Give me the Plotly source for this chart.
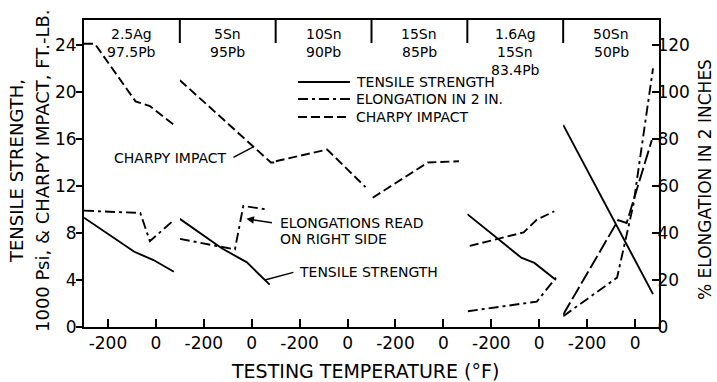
import plotly.graph_objects as go

# Alloy composition of each panel (top labels)
alloys = [
    ["2.5Ag", "97.5Pb"],
    ["5Sn", "95Pb"],
    ["10Sn", "90Pb"],
    ["15Sn", "85Pb"],
    ["1.6Ag", "15Sn", "83.4Pb"],
    ["50Sn", "50Pb"],
]

# Tensile strength, 1000 psi (left axis)
tensile_temp = [
    [-300, -205, -90, -10, 75],
    [-300, -125, -20, 75],
    [],
    [],
    [-300, -170, -75, -20, 70],
    [-300, 75],
]
tensile_ksi = [
    [9.3, 8.0, 6.4, 5.7, 4.7],
    [9.2, 6.7, 5.5, 3.6],
    [],
    [],
    [9.6, 7.5, 5.9, 5.45, 4.0],
    [17.2, 2.8],
]

# Elongation in 2 in., percent (right axis)
elong_temp = [
    [-300, -65, -25, 75],
    [-300, -70, -35, 62],
    [],
    [],
    [-298, -10, 70],
    [-300, -75, -7, 75],
]
elong_pct = [
    [49.5, 48.5, 36.5, 45.5],
    [37.5, 33.0, 51.5, 50.0],
    [],
    [],
    [6.7, 10.8, 21.0],
    [4.6, 21.0, 52.0, 110.0],
]

# Charpy impact, ft-lb (left axis)
charpy_temp = [
    [-300, -255, -85, -25, 75],
    [-300, 80, 100],
    [-300, -85, 75],
    [-295, -65, 65],
    [-290, -65, -12, 63],
    [-300, -70, -35, 70],
]
charpy_ftlb = [
    [24.1, 24.1, 19.2, 18.8, 17.2],
    [21.0, 14.0, 14.0],
    [14.1, 15.1, 11.9],
    [11.0, 14.0, 14.1],
    [6.9, 8.05, 9.1, 9.85],
    [1.05, 9.1, 8.85, 15.9],
]

temp_ticks = [-200, 0]
left_ticks = [0, 4, 8, 12, 16, 20, 24]
right_ticks = [0, 20, 40, 60, 80, 100, 120]

FONT = "DejaVu Sans"
INK = "black"
TENSILE_DASH = "solid"
ELONG_DASH = "10px,4px,3px,4px"
CHARPY_DASH = "9px,4px"

n = len(alloys)
fig = go.Figure()

for i in range(n):
    xa = "x" if i == 0 else f"x{i + 1}"
    if tensile_temp[i]:
        fig.add_trace(go.Scatter(x=tensile_temp[i], y=tensile_ksi[i], xaxis=xa, yaxis="y",
                                 mode="lines", line=dict(color=INK, width=1.9, dash=TENSILE_DASH),
                                 showlegend=False))
    if elong_temp[i]:
        fig.add_trace(go.Scatter(x=elong_temp[i], y=elong_pct[i], xaxis=xa, yaxis="y2",
                                 mode="lines", line=dict(color=INK, width=1.9, dash=ELONG_DASH),
                                 showlegend=False))
    if charpy_temp[i]:
        fig.add_trace(go.Scatter(x=charpy_temp[i], y=charpy_ftlb[i], xaxis=xa, yaxis="y",
                                 mode="lines",
                                 line=dict(color=INK, width=1.9,
                                           dash="14px,4px" if i == n - 1 else CHARPY_DASH),
                                 showlegend=False))

tick_font = dict(family=FONT, size=17, color=INK)
layout = dict(
    width=717, height=382,
    margin=dict(l=84, r=58, t=20, b=55),
    paper_bgcolor="white", plot_bgcolor="white",
    showlegend=False,
    font=dict(family=FONT, color=INK),
    yaxis=dict(domain=[0, 1], range=[0, 26.12], anchor="x", side="left",
               tickvals=left_ticks, ticks="outside", ticklen=6, tickwidth=2, tickcolor=INK,
               showline=True, linewidth=2, linecolor=INK, showgrid=False, zeroline=False,
               tickfont=tick_font, ticklabelstandoff=-4),
    yaxis2=dict(range=[0, 130.6], overlaying="y", anchor="x6", side="right",
                tickvals=right_ticks, ticks="inside", ticklen=7, tickwidth=2, tickcolor=INK,
                showline=True, linewidth=2, linecolor=INK, showgrid=False, zeroline=False,
                tickfont=tick_font, ticklabelstandoff=-7),
)
for i in range(n):
    key = "xaxis" if i == 0 else f"xaxis{i + 1}"
    layout[key] = dict(domain=[i / n, (i + 1) / n], range=[-300, 100], anchor="y",
                       tickvals=temp_ticks, ticktext=[str(t) for t in temp_ticks],
                       ticks="inside", ticklen=8, tickwidth=2, tickcolor=INK,
                       showline=True, linewidth=2, linecolor=INK, mirror=True,
                       showgrid=False, zeroline=False, tickfont=tick_font)
fig.update_layout(**layout)

# plot-area pixel helpers for labels placed in paper space
L, R, T, B = 84, 659, 20, 327
def px(x):
    return (x - L) / (R - L)
def py(y):
    return (B - y) / (B - T)

shapes = []
# panel separators hanging from the top frame
for i in range(1, n):
    shapes.append(dict(type="line", xref="paper", yref="paper", x0=i / n, x1=i / n,
                       y0=1, y1=py(43), line=dict(color=INK, width=2)))

# legend key
legend_rows = [("TENSILE STRENGTH", TENSILE_DASH, 82),
               ("ELONGATION IN 2 IN.", ELONG_DASH, 99),
               ("CHARPY IMPACT", CHARPY_DASH, 117)]
annotations = []
for label, dash, yy in legend_rows:
    shapes.append(dict(type="line", xref="paper", yref="paper", x0=px(298), x1=px(350),
                       y0=py(yy), y1=py(yy), line=dict(color=INK, width=1.9, dash=dash)))
    annotations.append(dict(text=label, xref="paper", yref="paper", x=px(354), y=py(yy),
                            xanchor="left", yanchor="middle", showarrow=False,
                            font=dict(family=FONT, size=14, color=INK)))

# alloy labels
for i, lines in enumerate(alloys):
    for j, txt in enumerate(lines):
        annotations.append(dict(text=txt, xref="paper", yref="paper", x=(i + 0.5) / n,
                                y=py(34 + 18 * j), xanchor="center", yanchor="middle",
                                showarrow=False, font=dict(family=FONT, size=14, color=INK)))

# callouts
note_font = dict(family=FONT, size=14, color=INK)
annotations += [
    dict(text="CHARPY IMPACT", xref="paper", yref="paper", x=px(112), y=py(158),
         xanchor="left", yanchor="middle", showarrow=False, font=note_font),
    dict(text="ELONGATIONS READ", xref="paper", yref="paper", x=px(278), y=py(223),
         xanchor="left", yanchor="middle", showarrow=False, font=note_font),
    dict(text="ON RIGHT SIDE", xref="paper", yref="paper", x=px(278), y=py(239),
         xanchor="left", yanchor="middle", showarrow=False, font=note_font),
    dict(text="TENSILE STRENGTH", xref="paper", yref="paper", x=px(297), y=py(272),
         xanchor="left", yanchor="middle", showarrow=False, font=note_font),
    # pointers
    dict(text="", xref="x2", yref="y", x=5, y=15.3, ax=-21, ay=11,
         showarrow=True, arrowhead=0, arrowwidth=1.5, arrowcolor=INK),
    dict(text="", xref="x2", yref="y2", x=-22, y=46, ax=27, ay=4,
         showarrow=True, arrowhead=2, arrowsize=1, arrowwidth=1.5, arrowcolor=INK),
    dict(text="", xref="x2", yref="y", x=55, y=4.0, ax=30, ay=-8,
         showarrow=True, arrowhead=0, arrowwidth=1.5, arrowcolor=INK),
]

# axis titles
title_font = dict(family=FONT, size=18, color=INK)
annotations += [
    dict(text="TENSILE STRENGTH,", xref="paper", yref="paper", x=px(16), y=py(171),
         textangle=-90, xanchor="center", yanchor="middle", showarrow=False, font=title_font),
    dict(text="1000 Psi, & CHARPY IMPACT, FT.-LB.", xref="paper", yref="paper", x=px(42),
         y=py(171), textangle=-90, xanchor="center", yanchor="middle", showarrow=False,
         font=title_font),
    dict(text="% ELONGATION IN 2 INCHES", xref="paper", yref="paper", x=px(705), y=py(180),
         textangle=-90, xanchor="center", yanchor="middle", showarrow=False,
         font=dict(family=FONT, size=17, color=INK)),
    dict(text="TESTING TEMPERATURE (°F)", xref="paper", yref="paper", x=px(365), y=py(371),
         xanchor="center", yanchor="middle", showarrow=False, font=dict(family=FONT, size=19, color=INK)),
]

fig.update_layout(shapes=shapes, annotations=annotations)
fig.write_html("out.html")
